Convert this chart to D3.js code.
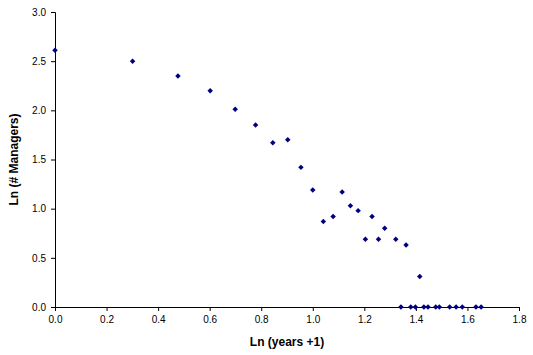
<!DOCTYPE html>
<html>
<head>
<meta charset="utf-8">
<script src="https://cdn.jsdelivr.net/npm/d3@7"></script>
<style>
  body { margin: 0; background: #fff; }
  svg { display: block; }
  .tick text { font-family: Arial, "Liberation Sans", sans-serif; font-size: 10px; fill: #000; }
  .title { font-family: Arial, "Liberation Sans", sans-serif; font-size: 12px; font-weight: bold; fill: #000; }
</style>
</head>
<body>
<div id="chart"></div>
<script>
// x = log10(years + 1), y = ln-scale # managers
const xValues = [0.0, 0.301, 0.477, 0.602, 0.699, 0.778, 0.845, 0.903, 0.954, 1.0,
  1.041, 1.079, 1.114, 1.146, 1.176, 1.204, 1.230, 1.255, 1.279, 1.322, 1.362, 1.415,
  1.342, 1.380, 1.398, 1.431, 1.447, 1.477, 1.491, 1.531, 1.556, 1.580, 1.633, 1.653]
const yValues = [2.61, 2.50, 2.35, 2.20, 2.01, 1.85, 1.67, 1.70, 1.42, 1.19,
  0.87, 0.92, 1.17, 1.03, 0.98, 0.69, 0.92, 0.69, 0.80, 0.69, 0.63, 0.31,
  0, 0, 0, 0, 0, 0, 0, 0, 0, 0, 0, 0]
const xTicks = [0, 0.2, 0.4, 0.6, 0.8, 1.0, 1.2, 1.4, 1.6, 1.8]
const yTicks = [0, 0.5, 1.0, 1.5, 2.0, 2.5, 3.0]

const WIDTH = 533
const HEIGHT = 355
const margin = { left: 55, right: 14, top: 12, bottom: 48 }

const points = xValues.map((x, i) => ({ x, y: yValues[i] }))

const svg = d3.select('#chart').append('svg')
  .attr('width', WIDTH)
  .attr('height', HEIGHT)

const x = d3.scaleLinear().domain([0, 1.8]).range([margin.left, WIDTH - margin.right])
const y = d3.scaleLinear().domain([0, 3]).range([HEIGHT - margin.bottom, margin.top])

svg.append('g')
  .attr('transform', `translate(0,${HEIGHT - margin.bottom})`)
  .call(d3.axisBottom(x).tickValues(xTicks).tickFormat(d3.format('.1f')).tickSizeOuter(0).tickSize(4).tickPadding(5))
  .call(g => g.select('.domain').attr('stroke', '#000'))

svg.append('g')
  .attr('transform', `translate(${margin.left},0)`)
  .call(d3.axisLeft(y).tickValues(yTicks).tickFormat(d3.format('.1f')).tickSizeOuter(0).tickSize(4).tickPadding(5))
  .call(g => g.select('.domain').attr('stroke', '#000'))

svg.selectAll('.tick line').attr('stroke', '#000')
svg.selectAll('.tick text').attr('font-family', null).attr('font-size', null)

// square diamond marker (rotated square), like the Excel one
svg.append('g')
  .selectAll('path')
  .data(points)
  .enter()
  .append('path')
  .attr('d', d3.symbol(d3.symbolSquare, 15))
  .attr('transform', d => `translate(${x(d.x)},${y(d.y)}) rotate(45)`)
  .attr('fill', '#000080')

svg.append('text')
  .attr('class', 'title')
  .attr('x', (x(0) + x(1.8)) / 2)
  .attr('y', 346)
  .attr('text-anchor', 'middle')
  .text('Ln (years +1)')

svg.append('text')
  .attr('class', 'title')
  .attr('transform', `translate(18,${(y(0) + y(3)) / 2}) rotate(-90)`)
  .attr('text-anchor', 'middle')
  .text('Ln (# Managers)')
</script>
</body>
</html>
